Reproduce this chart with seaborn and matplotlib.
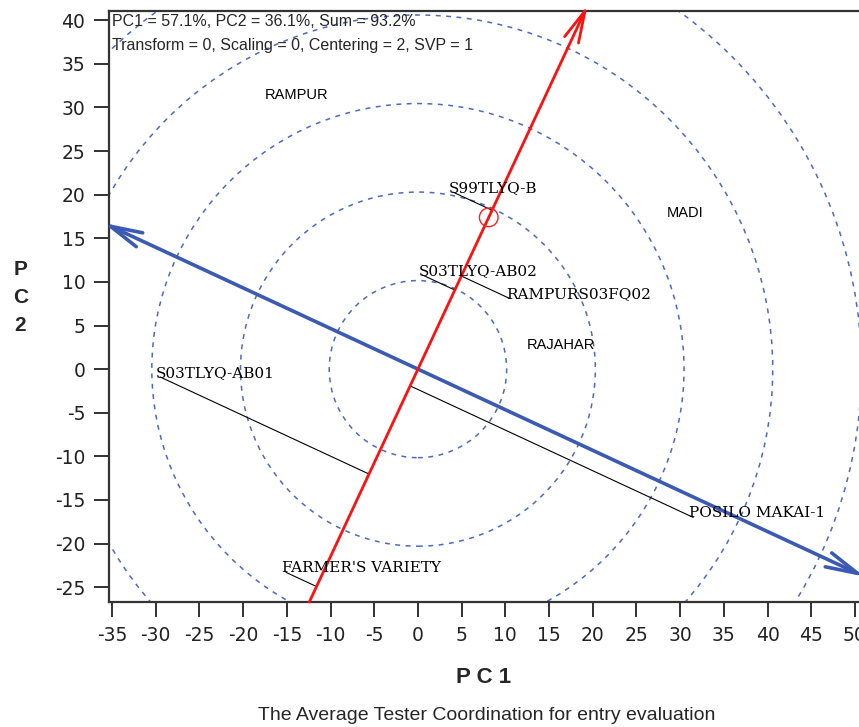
import numpy as np
import seaborn as sns
import matplotlib.pyplot as plt
from matplotlib.patches import Circle

# entries (serif labels, projected onto the average tester axis)
entry_names = ["S99TLYQ-B", "S03TLYQ-AB02", "RAMPURS03FQ02", "S03TLYQ-AB01",
               "POSILO MAKAI-1", "FARMER'S VARIETY"]
entry_pc1 = [4.0, 0.5, 10.5, -29.5, 31.5, -15.1]
entry_pc2 = [20.3, 10.8, 8.1, -0.9, -17.0, -23.3]

# testers (sans labels)
tester_names = ["RAMPUR", "MADI", "RAJAHAR"]
tester_pc1 = [-17.5, 28.5, 12.5]
tester_pc2 = [31.4, 17.9, 2.8]

avg_tester = [8.1, 17.4]
ring_radii = [10.15, 20.3, 30.45, 40.6, 50.75]

x_ticks = list(range(-35, 51, 5))
y_ticks = list(range(-25, 41, 5))
xlim = (-35.35, 50.47)
ylim = (-26.7, 41.06)

sns.set_style("white")
plt.rcParams["font.family"] = ["Liberation Sans", "DejaVu Sans"]
plt.rcParams["axes.unicode_minus"] = False

fig = plt.figure(figsize=(8.59, 7.27), dpi=100)
ax = fig.add_axes([109 / 859, 1 - 602 / 727, 750 / 859, 591 / 727])
ax.set_xlim(*xlim)
ax.set_ylim(*ylim)

ring_col = "#4a6ac4"
for r in ring_radii:
    ax.add_patch(Circle((0, 0), r, fill=False, ec=ring_col, lw=1.1,
                        ls=(0, (3.2, 3.6)), zorder=1))

# average tester axis (red) and its perpendicular (blue)
s = avg_tester[1] / avg_tester[0]
u = np.array(avg_tester) / np.hypot(*avg_tester)
v = np.array([-u[1], u[0]])
ext = 0.7  # push tips out so the drawn head meets the frame
red_top = (ylim[1] / s + ext * u[0], ylim[1] + ext * u[1])
red_bot = (ylim[0] / s, ylim[0])
blue_left = (xlim[0] + ext * v[0], -xlim[0] / s + ext * v[1])
blue_right = (xlim[1] - ext * v[0], -xlim[1] / s - ext * v[1])

ax.annotate("", xy=red_top, xytext=red_bot,
            arrowprops=dict(arrowstyle="->,head_length=2.3,head_width=0.55",
                            color="#ff1010", lw=2.0, shrinkA=0, shrinkB=0),
            annotation_clip=False, zorder=4)
ax.annotate("", xy=blue_right, xytext=blue_left,
            arrowprops=dict(arrowstyle="<->,head_length=2.3,head_width=0.55",
                            color="#3a5ab4", lw=2.6, shrinkA=0, shrinkB=0),
            annotation_clip=False, zorder=3)

# projection lines from entries onto the red axis
for name, x, y in zip(entry_names, entry_pc1, entry_pc2):
    d = x * u[0] + y * u[1]
    ax.plot([x, d * u[0]], [y, d * u[1]], color="black", lw=0.8, zorder=2)
    ax.annotate(name, (x, y), xytext=(-4, 4), textcoords="offset pixels",
                ha="left", va="center", fontsize=11, family="DejaVu Serif",
                color="black", zorder=5)

for name, x, y in zip(tester_names, tester_pc1, tester_pc2):
    ax.text(x, y, name, ha="left", va="center", fontsize=10.5, color="black", zorder=5)

sns.scatterplot(x=[avg_tester[0]], y=[avg_tester[1]], ax=ax, s=180, marker="o",
                facecolor="none", edgecolor="#ff2020", linewidth=1.0, zorder=6)

ax.text(0.004, 0.982, "PC1 = 57.1%, PC2 = 36.1%, Sum = 93.2%",
        transform=ax.transAxes, ha="left", va="center", fontsize=11.5)
ax.text(0.004, 0.942, "Transform = 0, Scaling = 0, Centering = 2, SVP = 1",
        transform=ax.transAxes, ha="left", va="center", fontsize=11.5)

ax.set_xticks(x_ticks)
ax.set_yticks(y_ticks)
ax.tick_params(axis="both", direction="out", length=11, width=1.3, color="#222222",
               labelsize=13.5, pad=6, labelcolor="#222222", left=True, bottom=True)
for lab in ax.get_xticklabels() + ax.get_yticklabels():
    lab.set_family("DejaVu Sans")
for side in ["left", "bottom", "top"]:
    ax.spines[side].set_color("#333333")
    ax.spines[side].set_linewidth(1.6)
ax.spines["right"].set_visible(False)

ax.set_xlabel("P C 1", fontsize=16, fontweight="bold", labelpad=16)
ax.set_ylabel("P\nC\n2", fontsize=15, fontweight="bold", rotation=0,
              labelpad=0, linespacing=1.6, va="center")
ax.yaxis.set_label_coords(-0.118, 0.515)
fig.text(487 / 859, 1 - 716 / 727, "The Average Tester Coordination for entry evaluation",
         ha="center", va="center", fontsize=14)

fig.savefig("out.png", dpi=100)
